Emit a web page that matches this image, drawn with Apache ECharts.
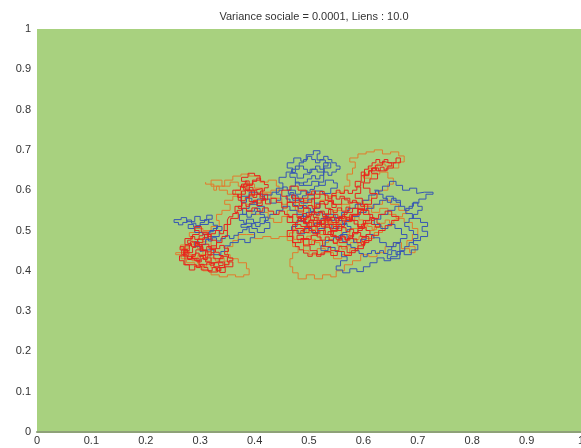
<!DOCTYPE html>
<html><head><meta charset="utf-8">
<script src="https://cdn.jsdelivr.net/npm/echarts@6/dist/echarts.min.js"></script>
<style>html,body{margin:0;padding:0;background:#fff}#c{width:581px;height:448px}</style>
</head><body><div id="c"></div>
<script>
const titleText = "Variance sociale = 0.0001, Liens : 10.0";
const seriesNames = ["orange", "blue", "red"];

const blueWalkA = [
[0.252,0.527],[0.265,0.532],[0.275,0.522],[0.29,0.535],[0.30,0.525],[0.312,0.538],[0.322,0.528],[0.315,0.515],[0.30,0.508],[0.288,0.515],[0.278,0.505],[0.29,0.495],[0.305,0.49],[0.318,0.50],[0.33,0.51],[0.34,0.50],[0.335,0.485],[0.32,0.478],[0.31,0.465],[0.298,0.472],[0.29,0.46],[0.30,0.448],[0.315,0.452],[0.325,0.44],[0.338,0.448],[0.345,0.462],[0.355,0.47],[0.37,0.478],[0.382,0.47],[0.392,0.482],[0.40,0.495],[0.39,0.508],[0.375,0.515],[0.385,0.528],[0.398,0.52],[0.41,0.532],[0.42,0.52],[0.428,0.505],[0.418,0.495],[0.405,0.505],[0.395,0.518],[0.38,0.525],[0.372,0.54],[0.385,0.548],[0.40,0.555],[0.41,0.545],[0.418,0.56],[0.405,0.57],[0.395,0.58],[0.385,0.57],[0.375,0.585],[0.39,0.595],[0.405,0.59],[0.415,0.578],[0.428,0.568],[0.44,0.575],[0.448,0.59],[0.44,0.605],[0.452,0.618],[0.445,0.632],[0.458,0.645],[0.47,0.655],[0.46,0.668],[0.472,0.68],[0.485,0.672],[0.495,0.688],[0.508,0.698],[0.52,0.69],[0.515,0.675],[0.53,0.668],[0.54,0.655],[0.528,0.645],[0.515,0.652],[0.502,0.64],[0.49,0.63],[0.478,0.642],[0.465,0.632],[0.475,0.618],[0.49,0.612],[0.505,0.622],[0.518,0.612],[0.53,0.625],[0.545,0.618],[0.552,0.605],[0.54,0.592],[0.525,0.598],[0.51,0.588],[0.498,0.598],[0.485,0.59],[0.475,0.6],[0.462,0.59],[0.47,0.575],[0.485,0.568],[0.498,0.578],[0.51,0.568],[0.52,0.555],[0.508,0.545],[0.495,0.535],[0.485,0.522],[0.495,0.51],[0.51,0.518],[0.522,0.53],[0.535,0.54],[0.548,0.532],[0.56,0.545],[0.572,0.555],[0.585,0.565],[0.598,0.575],[0.61,0.588],[0.622,0.598],[0.635,0.61],[0.648,0.622],[0.66,0.612],[0.672,0.6],[0.685,0.605],[0.698,0.592],[0.712,0.595],[0.728,0.59],[0.715,0.578],[0.702,0.568],[0.69,0.555],[0.678,0.542],[0.69,0.53],[0.705,0.52],[0.718,0.51],[0.708,0.498],[0.718,0.485],[0.705,0.475],[0.692,0.465],[0.7,0.452],[0.688,0.44],[0.675,0.448],[0.662,0.435],[0.65,0.425],[0.638,0.432],[0.625,0.42],[0.612,0.41],[0.6,0.398],[0.588,0.405],[0.575,0.395],[0.562,0.402],[0.55,0.412],[0.558,0.425],[0.57,0.435],[0.56,0.448],[0.548,0.458],[0.535,0.45],[0.522,0.462],[0.53,0.475],[0.545,0.482],[0.558,0.49],[0.57,0.48],[0.582,0.47],[0.595,0.478],[0.605,0.49],[0.618,0.482],[0.63,0.47],[0.642,0.46],[0.655,0.47],[0.668,0.48],[0.68,0.49],[0.67,0.505],[0.658,0.515],[0.645,0.505],[0.632,0.515],[0.62,0.528],[0.632,0.54],[0.645,0.55],[0.658,0.56],[0.668,0.575],[0.655,0.585],[0.642,0.575],[0.63,0.565],[0.618,0.555],[0.605,0.545],[0.592,0.535],[0.58,0.525],[0.568,0.515],[0.555,0.505],[0.542,0.515],[0.53,0.505],[0.518,0.495],[0.505,0.505],[0.492,0.492],[0.48,0.5],[0.468,0.51],[0.478,0.525],[0.49,0.54],[0.478,0.55],[0.465,0.56],[0.452,0.55],[0.44,0.54],[0.428,0.53]
];
const blueWalkB = [
[0.452,0.6],[0.46,0.608],[0.467,0.6],[0.475,0.61],[0.482,0.62],[0.49,0.612],[0.497,0.62],[0.505,0.628],[0.512,0.636],[0.52,0.628],[0.527,0.637],[0.535,0.645],[0.542,0.637],[0.55,0.645],[0.557,0.652],[0.55,0.66],[0.542,0.668],[0.535,0.676],[0.527,0.684],[0.52,0.676],[0.512,0.668],[0.505,0.676],[0.497,0.684],[0.49,0.676],[0.482,0.668],[0.475,0.66],[0.468,0.652],[0.475,0.644],[0.482,0.652],[0.49,0.66],[0.497,0.652],[0.505,0.644],[0.512,0.652],[0.52,0.66],[0.527,0.652],[0.535,0.66],[0.527,0.668],[0.518,0.62],[0.51,0.61],[0.502,0.602],[0.495,0.594],[0.488,0.586],[0.48,0.578],[0.472,0.586],[0.465,0.594],[0.458,0.586],[0.465,0.578],[0.472,0.57],[0.48,0.562],[0.488,0.555],[0.495,0.562],[0.503,0.555],[0.51,0.547],[0.517,0.54],[0.524,0.547],[0.532,0.54],[0.54,0.532],[0.547,0.525],[0.555,0.532],[0.562,0.525],[0.57,0.517],[0.577,0.51],[0.57,0.502],[0.562,0.495],[0.555,0.487],[0.562,0.48],[0.57,0.472],[0.577,0.465],[0.585,0.458],[0.592,0.45],[0.6,0.443],[0.607,0.435],[0.615,0.443],[0.622,0.45],[0.63,0.443],[0.637,0.45],[0.645,0.443],[0.652,0.452],[0.66,0.46],[0.667,0.468]
];
const blueWalkC = [
[0.26,0.52],[0.268,0.514],[0.276,0.52],[0.284,0.526],[0.292,0.518],[0.3,0.512],[0.308,0.52],[0.316,0.527],[0.324,0.52],[0.332,0.513],[0.324,0.505],[0.316,0.497],[0.308,0.49],[0.315,0.482],[0.322,0.474],[0.33,0.482],[0.338,0.474],[0.346,0.48],[0.354,0.487],[0.362,0.48],[0.37,0.488],[0.378,0.495],[0.386,0.502],[0.394,0.51],[0.402,0.517],[0.41,0.51],[0.418,0.517],[0.425,0.525],[0.418,0.533],[0.41,0.54],[0.402,0.547],[0.394,0.54],[0.386,0.533],[0.378,0.54],[0.39,0.555],[0.405,0.565],[0.418,0.578],[0.432,0.588],[0.445,0.595]
];
const blueWalkD = [
[0.644,0.43],[0.652,0.44],[0.66,0.45],[0.668,0.44],[0.676,0.45],[0.684,0.46],[0.692,0.47],[0.7,0.48],[0.692,0.49],[0.684,0.5],[0.676,0.51],[0.684,0.52],[0.692,0.53],[0.7,0.54],[0.708,0.55],[0.7,0.56],[0.692,0.57],[0.684,0.56],[0.676,0.55],[0.668,0.56],[0.66,0.57],[0.652,0.58],[0.644,0.57],[0.636,0.58],[0.628,0.59],[0.62,0.6]
];

const redWalkA = [
[0.272,0.462],[0.282,0.472],[0.292,0.458],[0.286,0.445],[0.276,0.452],[0.266,0.44],[0.276,0.43],[0.29,0.425],[0.3,0.438],[0.31,0.45],[0.304,0.465],[0.295,0.478],[0.308,0.49],[0.32,0.476],[0.33,0.462],[0.32,0.447],[0.31,0.432],[0.32,0.418],[0.334,0.422],[0.345,0.408],[0.332,0.397],[0.316,0.402],[0.302,0.412],[0.29,0.402],[0.28,0.415],[0.27,0.425],[0.262,0.437],[0.27,0.45],[0.28,0.465],[0.272,0.48],[0.286,0.49],[0.298,0.5],[0.29,0.51],[0.302,0.496],[0.315,0.482],[0.305,0.47],[0.292,0.462],[0.3,0.45],[0.314,0.44],[0.325,0.43],[0.338,0.436],[0.35,0.422],[0.36,0.41],[0.346,0.396],[0.336,0.41],[0.325,0.42],[0.312,0.415],[0.298,0.43],[0.285,0.44],[0.292,0.452],[0.302,0.466],[0.316,0.456],[0.33,0.47],[0.34,0.485],[0.35,0.5],[0.344,0.515],[0.356,0.53],[0.37,0.545],[0.364,0.56],[0.376,0.575],[0.37,0.59],[0.36,0.6],[0.374,0.61],[0.386,0.622],[0.376,0.632],[0.388,0.642],[0.4,0.636],[0.41,0.625],[0.396,0.612],[0.386,0.598],[0.4,0.586],[0.39,0.572],[0.404,0.562],[0.414,0.576],[0.424,0.59],[0.414,0.604],[0.4,0.6],[0.39,0.615],[0.38,0.6],[0.394,0.59],[0.41,0.58],[0.42,0.566],[0.43,0.58],[0.44,0.57],[0.45,0.556],[0.46,0.57],[0.47,0.56],[0.48,0.546],[0.49,0.556],[0.5,0.54],[0.51,0.556],[0.52,0.566],[0.53,0.555],[0.54,0.54],[0.53,0.525],[0.52,0.51],[0.505,0.52],[0.49,0.53],[0.48,0.52],[0.47,0.535],[0.46,0.52],[0.475,0.505],[0.49,0.495],[0.5,0.51],[0.515,0.5],[0.53,0.49],[0.545,0.5],[0.56,0.515],[0.55,0.53],[0.565,0.545],[0.58,0.555],[0.59,0.54],[0.575,0.525],[0.59,0.51],[0.6,0.525],[0.612,0.54],[0.6,0.555],[0.59,0.57],[0.575,0.58],[0.56,0.565],[0.545,0.575],[0.53,0.59],[0.52,0.58],[0.505,0.57],[0.49,0.58],[0.475,0.57],[0.46,0.585],[0.45,0.6],[0.465,0.61],[0.48,0.6],[0.495,0.59],[0.51,0.545],[0.525,0.535],[0.535,0.515],[0.55,0.5],[0.54,0.485],[0.555,0.47],[0.57,0.48],[0.58,0.495],[0.595,0.485],[0.61,0.47],[0.6,0.455],[0.585,0.445],[0.57,0.46],[0.555,0.45],[0.54,0.46],[0.525,0.475],[0.51,0.465],[0.5,0.48],[0.485,0.47],[0.47,0.485],[0.46,0.5],[0.47,0.515],[0.485,0.51],[0.5,0.525],[0.515,0.515],[0.528,0.528],[0.542,0.52],[0.555,0.535],[0.568,0.528],[0.58,0.54],[0.595,0.55],[0.608,0.565],[0.598,0.58],[0.585,0.592],[0.595,0.608],[0.585,0.622],[0.596,0.636],[0.61,0.648],[0.622,0.662],[0.635,0.672],[0.648,0.668],[0.66,0.68],[0.668,0.668],[0.655,0.655],[0.642,0.648],[0.628,0.655],[0.615,0.642],[0.626,0.628],[0.612,0.618],[0.6,0.605],[0.612,0.592],[0.625,0.58],[0.615,0.565],[0.602,0.552],[0.59,0.538],[0.578,0.522],[0.565,0.51],[0.552,0.498],[0.54,0.508],[0.528,0.5],[0.516,0.488],[0.504,0.478],[0.49,0.488],[0.478,0.478],[0.49,0.462],[0.502,0.45],[0.515,0.44],[0.528,0.448],[0.54,0.438],[0.552,0.448],[0.565,0.438],[0.578,0.45],[0.59,0.462],[0.602,0.475],[0.615,0.488],[0.628,0.5],[0.64,0.512],[0.652,0.525],[0.665,0.535],[0.652,0.548],[0.64,0.54],[0.628,0.53],[0.615,0.518],[0.602,0.505],[0.59,0.495]
];
const redWalkB = [
[0.582,0.503],[0.575,0.497],[0.568,0.507],[0.56,0.5],[0.553,0.51],[0.545,0.504],[0.538,0.514],[0.53,0.509],[0.523,0.52],[0.515,0.513],[0.508,0.524],[0.5,0.518],[0.493,0.53],[0.486,0.523],[0.48,0.535],[0.488,0.542],[0.496,0.536],[0.505,0.546],[0.513,0.538],[0.52,0.548],[0.528,0.541],[0.536,0.552],[0.544,0.545],[0.552,0.556],[0.56,0.548],[0.568,0.558],[0.575,0.55],[0.57,0.54],[0.562,0.532],[0.555,0.524],[0.548,0.532],[0.54,0.524],[0.533,0.533],[0.526,0.525],[0.518,0.533],[0.51,0.526],[0.503,0.535],[0.496,0.527],[0.49,0.517],[0.497,0.508],[0.505,0.5],[0.512,0.492],[0.52,0.5],[0.527,0.49],[0.535,0.497],[0.542,0.488],[0.55,0.478],[0.558,0.486],[0.566,0.477],[0.573,0.487],[0.58,0.479],[0.588,0.47],[0.596,0.465],[0.603,0.473],[0.597,0.482],[0.605,0.49],[0.612,0.5],[0.605,0.508],[0.597,0.516],[0.604,0.524],[0.612,0.532],[0.62,0.525],[0.615,0.515],[0.622,0.508],[0.63,0.518],[0.625,0.53],[0.617,0.54],[0.61,0.55],[0.602,0.56],[0.595,0.568],[0.587,0.575],[0.58,0.568],[0.572,0.576],[0.565,0.585],[0.557,0.578],[0.55,0.587],[0.542,0.58],[0.535,0.588],[0.528,0.597],[0.52,0.59],[0.512,0.598],[0.505,0.59],[0.498,0.58],[0.49,0.572],[0.482,0.58],[0.475,0.588],[0.468,0.58],[0.475,0.57],[0.482,0.562],[0.49,0.555],[0.498,0.562],[0.506,0.555],[0.513,0.565],[0.52,0.572],[0.528,0.565],[0.535,0.572],[0.543,0.565],[0.55,0.557]
];
const redWalkC = [
[0.596,0.636],[0.603,0.645],[0.61,0.638],[0.617,0.648],[0.624,0.655],[0.631,0.648],[0.638,0.657],[0.645,0.65],[0.652,0.66],[0.645,0.668],[0.638,0.676],[0.63,0.668],[0.623,0.676],[0.616,0.668],[0.609,0.66],[0.602,0.652],[0.595,0.62],[0.588,0.61],[0.58,0.6],[0.572,0.592],[0.565,0.6],[0.557,0.592],[0.55,0.6],[0.542,0.592]
];
const redWalkD = [
[0.37,0.56],[0.377,0.568],[0.384,0.56],[0.391,0.568],[0.398,0.575],[0.405,0.568],[0.412,0.575],[0.418,0.585],[0.411,0.593],[0.404,0.6],[0.397,0.607],[0.39,0.6],[0.383,0.607],[0.376,0.615],[0.383,0.623],[0.39,0.615],[0.397,0.622],[0.404,0.63],[0.411,0.622],[0.418,0.614],[0.425,0.606],[0.418,0.598],[0.411,0.59],[0.404,0.582],[0.397,0.59],[0.39,0.582],[0.383,0.574],[0.376,0.582],[0.369,0.59],[0.376,0.598],[0.383,0.59],[0.376,0.55],[0.368,0.542],[0.36,0.534],[0.353,0.526],[0.35,0.5]
];
const redWalkE = [
[0.343,0.492],[0.336,0.5],[0.328,0.492],[0.32,0.485],[0.313,0.494],[0.305,0.487],[0.298,0.478],[0.29,0.485],[0.283,0.476],[0.277,0.468],[0.284,0.46],[0.291,0.468],[0.298,0.46],[0.305,0.452],[0.312,0.46],[0.32,0.453],[0.327,0.445],[0.32,0.437],[0.313,0.428],[0.306,0.436],[0.298,0.444],[0.291,0.436],[0.284,0.428],[0.277,0.437],[0.27,0.445],[0.277,0.453],[0.27,0.46],[0.263,0.452],[0.27,0.444],[0.278,0.436],[0.286,0.43],[0.294,0.422],[0.302,0.43],[0.31,0.422],[0.318,0.414],[0.326,0.42],[0.334,0.413],[0.342,0.42],[0.335,0.43],[0.342,0.438],[0.335,0.446],[0.328,0.455],[0.336,0.463],[0.344,0.456],[0.352,0.448],[0.345,0.44],[0.352,0.432],[0.36,0.425],[0.353,0.415],[0.345,0.408],[0.338,0.4],[0.33,0.408],[0.322,0.4],[0.314,0.408],[0.307,0.416],[0.3,0.408],[0.293,0.415]
];
const redWalkF = [
[0.385,0.555],[0.395,0.548],[0.405,0.556],[0.415,0.548],[0.425,0.556],[0.435,0.548],[0.445,0.54],[0.455,0.548],[0.463,0.54],[0.47,0.532],[0.478,0.54],[0.486,0.532],[0.493,0.524],[0.5,0.532],[0.508,0.54],[0.515,0.532],[0.523,0.524],[0.53,0.516],[0.538,0.524],[0.545,0.532],[0.553,0.54],[0.56,0.532],[0.568,0.524],[0.575,0.532],[0.583,0.524],[0.59,0.516],[0.598,0.508],[0.59,0.5],[0.582,0.492],[0.575,0.484],[0.567,0.476],[0.56,0.484],[0.552,0.476],[0.545,0.468],[0.537,0.476],[0.53,0.484],[0.522,0.476],[0.515,0.484],[0.507,0.492],[0.5,0.5],[0.492,0.508],[0.485,0.5],[0.478,0.492],[0.47,0.5],[0.475,0.47],[0.482,0.46],[0.49,0.452],[0.498,0.444],[0.506,0.436],[0.514,0.444],[0.522,0.436],[0.53,0.444]
];

const orangeWalkA1 = [
[0.31,0.62],[0.325,0.615],[0.33,0.60],[0.345,0.61],[0.36,0.625],[0.375,0.635],[0.39,0.64],[0.41,0.635],[0.425,0.62],[0.44,0.625],[0.445,0.61],[0.43,0.60],[0.415,0.59],[0.40,0.575],[0.385,0.565],[0.395,0.55],[0.41,0.54],[0.425,0.545],[0.435,0.53],[0.45,0.52],[0.46,0.535],[0.475,0.55],[0.49,0.56],[0.505,0.575],[0.52,0.56],[0.535,0.575],[0.55,0.585],[0.565,0.595],[0.575,0.61],[0.57,0.625],[0.58,0.64],[0.585,0.655],[0.575,0.67],[0.59,0.68],[0.605,0.69],[0.62,0.695],[0.635,0.70],[0.65,0.69],[0.665,0.695],[0.675,0.685],[0.665,0.67],[0.655,0.655],[0.64,0.66],[0.625,0.665],[0.61,0.655],[0.60,0.64],[0.615,0.63],[0.63,0.64],[0.645,0.645],[0.655,0.63],[0.645,0.615],[0.63,0.60],[0.615,0.59],[0.60,0.575],[0.615,0.56],[0.63,0.545],[0.645,0.555],[0.66,0.54],[0.675,0.53],[0.69,0.52],[0.70,0.505],[0.69,0.49],[0.68,0.475],[0.695,0.46],[0.685,0.445],[0.67,0.455],[0.655,0.47],[0.64,0.46],[0.625,0.445],[0.61,0.435],[0.595,0.44],[0.58,0.425],[0.565,0.415],[0.55,0.40],[0.54,0.385],[0.525,0.39],[0.51,0.38],[0.495,0.39],[0.48,0.38],[0.47,0.395],[0.465,0.41],[0.47,0.43],[0.48,0.445],[0.47,0.46],[0.46,0.475],[0.445,0.485],[0.43,0.48],[0.415,0.485],[0.40,0.48],[0.385,0.49],[0.37,0.49],[0.36,0.475],[0.35,0.46],[0.355,0.44],[0.37,0.43],[0.385,0.42],[0.39,0.405],[0.38,0.39],[0.365,0.385],[0.35,0.39],[0.335,0.385],[0.32,0.39],[0.305,0.40],[0.29,0.41],[0.275,0.42],[0.265,0.43],[0.255,0.44],[0.27,0.445],[0.285,0.435],[0.30,0.425]
];
const orangeWalkC = [
[0.296,0.424],[0.304,0.416],[0.312,0.41],[0.32,0.416],[0.328,0.408],[0.336,0.4],[0.344,0.408],[0.352,0.416],[0.344,0.424],[0.336,0.432],[0.328,0.424],[0.32,0.432],[0.312,0.424],[0.304,0.432],[0.296,0.44],[0.288,0.432],[0.28,0.44],[0.272,0.448],[0.264,0.456],[0.272,0.464],[0.28,0.456],[0.288,0.464],[0.296,0.472],[0.304,0.48],[0.312,0.472],[0.32,0.48]
];
const orangeWalkA2 = [
[0.305,0.44],[0.295,0.455],[0.285,0.47],[0.28,0.485],[0.29,0.495],[0.305,0.505],[0.32,0.50],[0.335,0.51],[0.33,0.525],[0.34,0.54],[0.355,0.55],[0.345,0.565],[0.36,0.575],[0.375,0.585],[0.365,0.60],[0.35,0.59],[0.335,0.60],[0.32,0.61],[0.34,0.625],[0.355,0.61],[0.37,0.62],[0.385,0.61],[0.40,0.615],[0.415,0.605],[0.43,0.595],[0.45,0.58],[0.46,0.565],[0.475,0.57],[0.49,0.55],[0.50,0.535],[0.515,0.52],[0.53,0.505],[0.52,0.49],[0.505,0.475],[0.49,0.465],[0.50,0.45],[0.515,0.44],[0.53,0.455],[0.545,0.445],[0.56,0.43],[0.575,0.44],[0.59,0.455],[0.605,0.47],[0.62,0.48],[0.635,0.495],[0.62,0.51],[0.605,0.50],[0.59,0.515],[0.575,0.505],[0.56,0.49],[0.545,0.505],[0.53,0.52],[0.545,0.535],[0.56,0.55],[0.575,0.565],[0.59,0.555],[0.605,0.545],[0.62,0.555],[0.635,0.565],[0.65,0.575],[0.665,0.565],[0.68,0.55]
];
const orangeWalkB = [
[0.672,0.542],[0.664,0.534],[0.656,0.526],[0.648,0.518],[0.64,0.526],[0.632,0.518],[0.624,0.51],[0.616,0.502],[0.608,0.51],[0.6,0.518],[0.592,0.526],[0.584,0.534],[0.576,0.526],[0.568,0.534],[0.56,0.526],[0.552,0.518],[0.544,0.51],[0.536,0.518],[0.528,0.51],[0.52,0.518],[0.512,0.51],[0.504,0.502],[0.496,0.494],[0.488,0.502],[0.48,0.494],[0.472,0.502],[0.464,0.494],[0.472,0.486],[0.48,0.478],[0.488,0.47],[0.496,0.478],[0.504,0.486],[0.512,0.478],[0.52,0.47],[0.528,0.462],[0.536,0.47],[0.544,0.478],[0.552,0.47],[0.56,0.462],[0.568,0.454],[0.576,0.462],[0.584,0.47],[0.592,0.478],[0.6,0.486]
];

const rev = a => a.slice().reverse();
const blueWalk = rev(blueWalkA).concat(blueWalkC, blueWalkB, blueWalkD);
const redWalk = redWalkC.concat(rev(redWalkB), rev(redWalkA), rev(redWalkE), rev(redWalkD), redWalkF);
const orangeWalk = orangeWalkA1.concat(orangeWalkC, orangeWalkA2, orangeWalkB);

const walks = [orangeWalk, blueWalk, redWalk];
const colors = ["#e27c2c", "#3656b4", "#e8241c"];

const chart = echarts.init(document.getElementById('c'), null, {renderer: 'canvas'});
const axisLabel = {color: '#333', fontSize: 11, fontFamily: 'Liberation Sans, Arial, sans-serif'};
chart.setOption({
  animation: false,
  backgroundColor: '#ffffff',
  title: {
    text: titleText, left: 309, top: 6, textAlign: 'center',
    textStyle: {fontSize: 11, fontWeight: 'normal', color: '#333', fontFamily: 'Liberation Sans, Arial, sans-serif'}
  },
  grid: {left: 37, top: 29, right: 0, bottom: 16, show: true, backgroundColor: '#a8d17f', borderWidth: 0, outerBoundsMode: 'none', containLabel: false},
  xAxis: {
    type: 'value', min: 0, max: 1, interval: 0.1,
    axisLine: {show: true, lineStyle: {color: '#8ea178', width: 2}},
    axisTick: {show: false}, splitLine: {show: false},
    axisLabel: Object.assign({margin: 3, formatter: v => String(Math.round(v * 10) / 10)}, axisLabel)
  },
  yAxis: {
    type: 'value', min: 0, max: 1, interval: 0.1,
    axisLine: {show: false}, axisTick: {show: false}, splitLine: {show: false},
    axisLabel: Object.assign({margin: 6, formatter: v => String(Math.round(v * 10) / 10)}, axisLabel)
  },
  series: walks.map((w, i) => ({
    name: seriesNames[i], type: 'line', step: 'start', data: w,
    showSymbol: false, symbol: 'none',
    lineStyle: {color: colors[i], width: 1}
  }))
});
</script></body></html>
